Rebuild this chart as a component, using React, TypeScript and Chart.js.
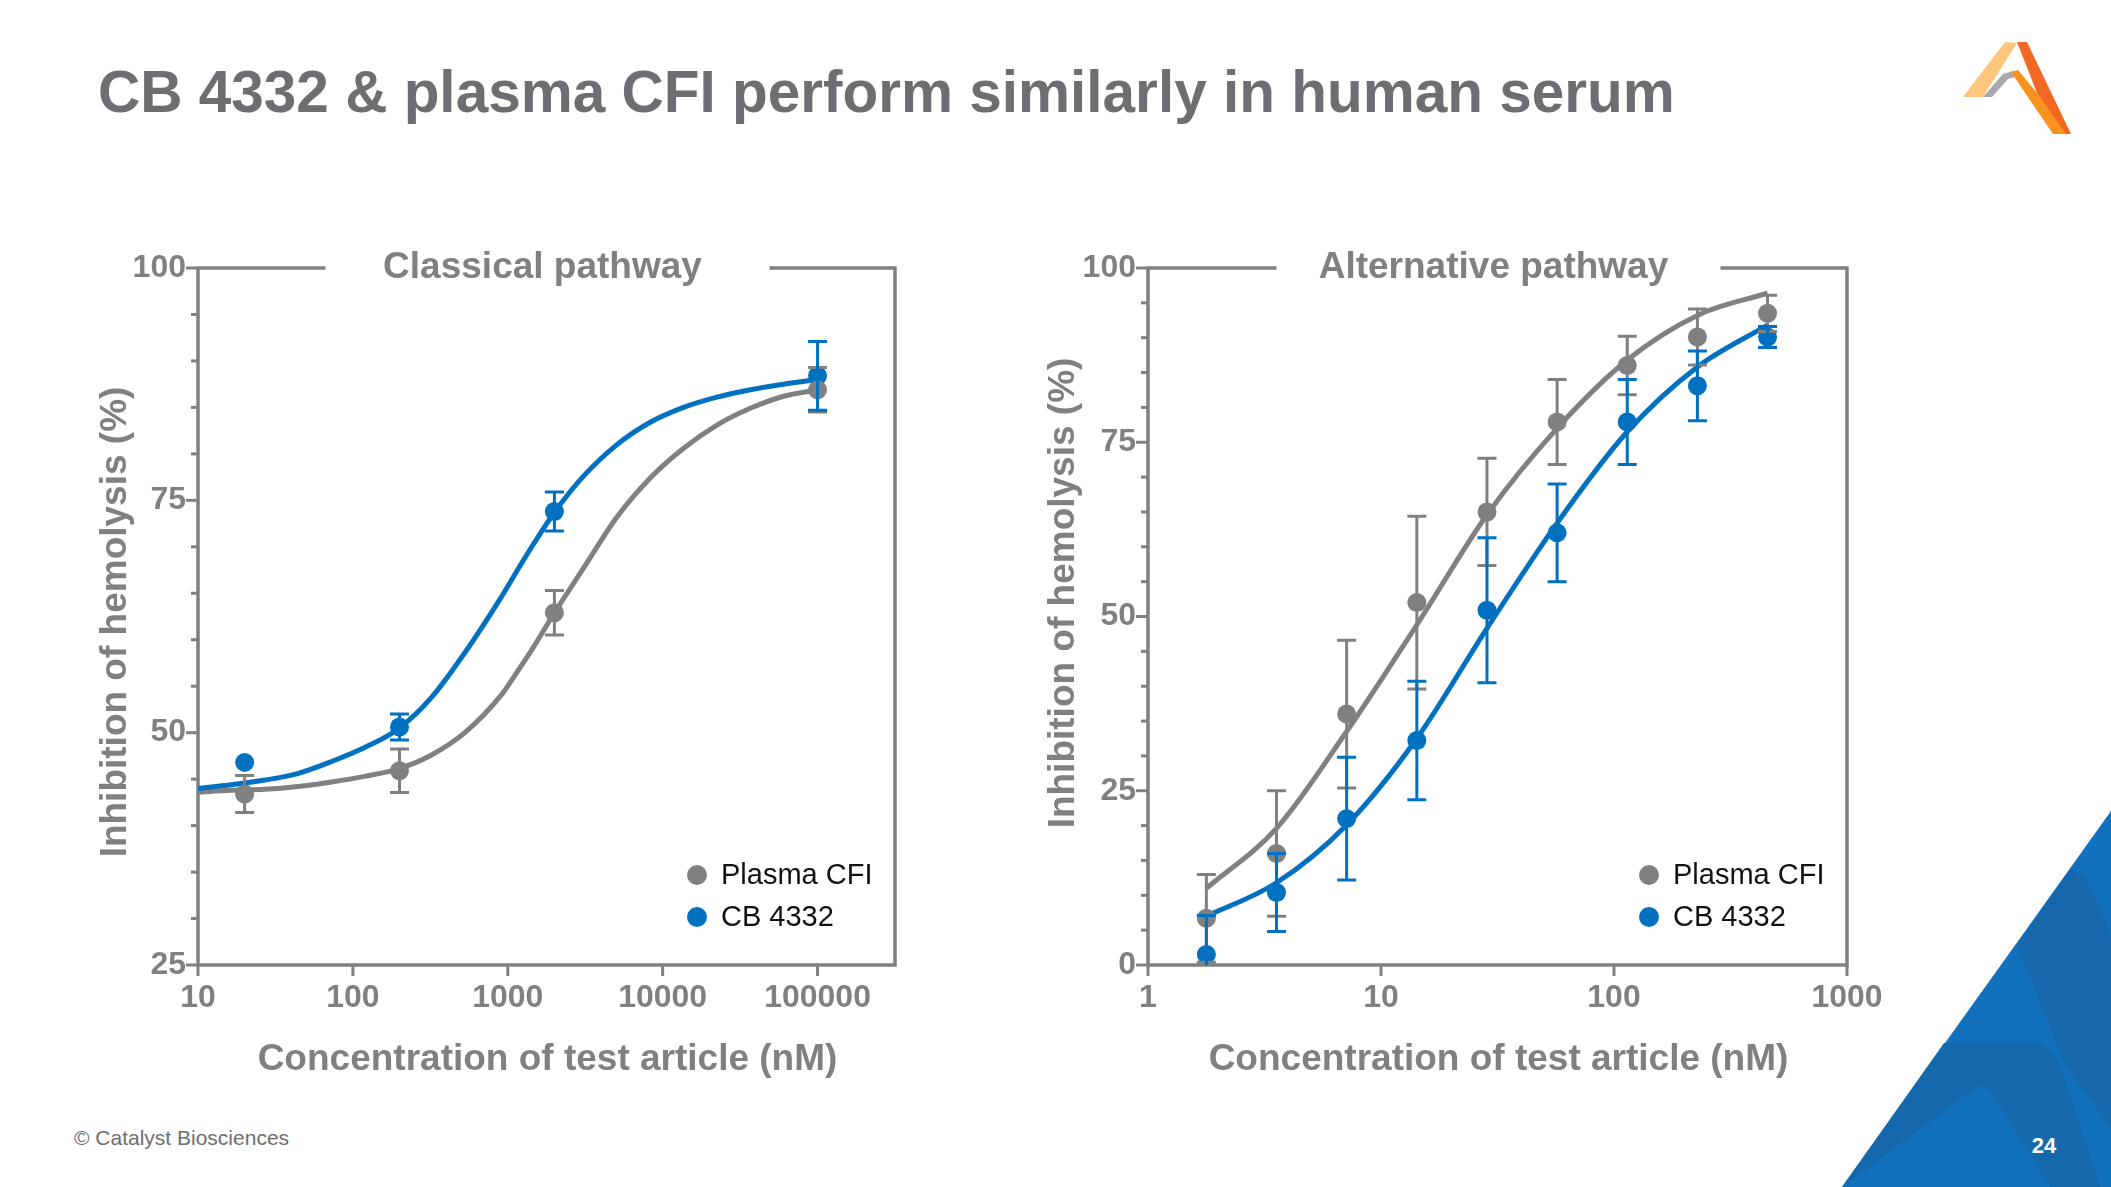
import React, { useEffect, useRef } from "react";
import { Chart, registerables } from "chart.js";

Chart.register(...registerables);

const FONT = "'Liberation Sans', Arial, Helvetica, sans-serif";
const GRAY = "#808080";
const BLUE = "#0070c0";
const TITLE_GRAY = "#6d6e71";
const W = 2111;
const H = 1187;

// ---------- Classical pathway ----------
const classicalConc = [20, 200, 2000, 100000];
const classicalPlasmaCFI = [43.4, 45.9, 62.9, 86.9];
const classicalPlasmaCFIErr = [2.0, 2.35, 2.4, 2.4];
const classicalCB4332 = [46.8, 50.6, 73.8, 88.4];
const classicalCB4332Err = [0, 1.4, 2.1, 3.7];
const classicalFitConc = [10, 16.4, 27, 44, 73, 119, 196, 322, 528, 893, 1146, 1466, 2000, 3083, 5070, 8318, 13650, 22400, 36800, 60400, 100000];
const classicalFitPlasmaCFI = [43.6, 43.8, 43.9, 44.2, 44.7, 45.3, 46.1, 47.6, 50.0, 53.9, 56.5, 59.2, 62.9, 67.7, 73.2, 77.4, 80.6, 83.1, 84.9, 86.2, 86.9];
const classicalFitCB4332 = [44.0, 44.4, 44.9, 45.6, 46.9, 48.4, 50.4, 53.8, 58.6, 64.4, 67.4, 70.3, 73.7, 77.6, 81.0, 83.4, 85.0, 86.1, 86.9, 87.5, 88.0];
const classicalXTicks = [10, 100, 1000, 10000, 100000];
const classicalYTicks = [25, 50, 75, 100];

// ---------- Alternative pathway ----------
const altConc = [1.78, 3.56, 7.12, 14.25, 28.5, 57, 114, 228, 456];
const altPlasmaCFI = [6.7, 16.0, 36.0, 52.0, 65.0, 77.9, 86.0, 90.1, 93.5];
const altPlasmaCFIErr = [6.3, 9.0, 10.6, 12.4, 7.7, 6.1, 4.2, 4.0, 2.6];
const altCB4332 = [1.5, 10.4, 21.0, 32.2, 50.9, 62.0, 77.9, 83.1, 90.1];
const altCB4332Err = [5.6, 5.6, 8.8, 8.5, 10.4, 7.0, 6.1, 5.0, 1.5];
const altFitConc = [1.78, 3.56, 7.12, 14.25, 28.5, 57, 114, 228, 456];
const altFitPlasmaCFI = [11.0, 19.6, 33.5, 48.8, 64.6, 77.0, 86.8, 93.2, 96.4];
const altFitCB4332 = [7.0, 11.8, 20.1, 32.5, 48.3, 63.4, 76.5, 85.8, 91.8];
const altXTicks = [1, 10, 100, 1000];
const altYTicks = [0, 25, 50, 75, 100];

type Panel = {
  title: string;
  left: number;
  right: number;
  top: number;
  bottom: number;
  xMin: number;
  xMax: number;
  yMin: number;
  yMax: number;
  minorStep: number;
  xTicks: number[];
  yTicks: number[];
  conc: number[];
  gray: number[];
  grayErr: number[];
  blue: number[];
  blueErr: number[];
  fitConc: number[];
  fitGray: number[];
  fitBlue: number[];
  yTitleX: number;
  yTitleY: number;
};

const classicalPanel: Panel = {
  title: "Classical pathway",
  left: 198,
  right: 895,
  top: 268,
  bottom: 965,
  xMin: 10,
  xMax: 316228,
  yMin: 25,
  yMax: 100,
  minorStep: 5,
  xTicks: classicalXTicks,
  yTicks: classicalYTicks,
  conc: classicalConc,
  gray: classicalPlasmaCFI,
  grayErr: classicalPlasmaCFIErr,
  blue: classicalCB4332,
  blueErr: classicalCB4332Err,
  fitConc: classicalFitConc,
  fitGray: classicalFitPlasmaCFI,
  fitBlue: classicalFitCB4332,
  yTitleX: 126,
  yTitleY: 622,
};

const altPanel: Panel = {
  title: "Alternative pathway",
  left: 1148,
  right: 1847,
  top: 268,
  bottom: 965,
  xMin: 1,
  xMax: 1000,
  yMin: 0,
  yMax: 100,
  minorStep: 5,
  xTicks: altXTicks,
  yTicks: altYTicks,
  conc: altConc,
  gray: altPlasmaCFI,
  grayErr: altPlasmaCFIErr,
  blue: altCB4332,
  blueErr: altCB4332Err,
  fitConc: altFitConc,
  fitGray: altFitPlasmaCFI,
  fitBlue: altFitCB4332,
  yTitleX: 1074,
  yTitleY: 593,
};

const AXIS_W = 100;
const AXIS_H = 100;

function makeDecor(p: Panel) {
  return {
    id: "decor",
    beforeDatasetsDraw(chart: any) {
      const ctx = chart.ctx as CanvasRenderingContext2D;
      const { left: L, right: R, top: T, bottom: B } = chart.chartArea;
      const xs = chart.scales.x;
      const ys = chart.scales.y;
      const cx = (L + R) / 2 + 1;
      ctx.save();
      ctx.strokeStyle = GRAY;
      ctx.lineWidth = 3.5;
      ctx.lineJoin = "miter";
      ctx.beginPath();
      ctx.moveTo(cx - 222, T);
      ctx.lineTo(L, T);
      ctx.lineTo(L, B);
      ctx.lineTo(R, B);
      ctx.lineTo(R, T);
      ctx.lineTo(cx + 222, T);
      ctx.stroke();
      // y ticks
      ctx.lineWidth = 3;
      for (let v = p.yMin; v <= p.yMax + 1e-6; v += p.minorStep) {
        const y = ys.getPixelForValue(v);
        const major = p.yTicks.includes(v);
        const len = major ? 12 : 7;
        ctx.beginPath();
        ctx.moveTo(L - len, y);
        ctx.lineTo(L, y);
        ctx.stroke();
      }
      // x ticks
      for (const v of p.xTicks) {
        const x = xs.getPixelForValue(v);
        ctx.beginPath();
        ctx.moveTo(x, B);
        ctx.lineTo(x, B + 11);
        ctx.stroke();
      }
      ctx.restore();
    },
    afterDatasetsDraw(chart: any) {
      const ctx = chart.ctx as CanvasRenderingContext2D;
      const { left: L, right: R, top: T, bottom: B } = chart.chartArea;
      const xs = chart.scales.x;
      const ys = chart.scales.y;
      ctx.save();
      ctx.beginPath();
      ctx.rect(L - 20, T - 30, R - L + 40, B - T + 30);
      ctx.clip();
      const drawBars = (vals: number[], errs: number[], color: string) => {
        ctx.strokeStyle = color;
        ctx.lineWidth = 3;
        vals.forEach((v, i) => {
          const e = errs[i];
          if (!e) return;
          const x = xs.getPixelForValue(p.conc[i]);
          const y1 = ys.getPixelForValue(v + e);
          const y2 = ys.getPixelForValue(v - e);
          ctx.beginPath();
          ctx.moveTo(x, y1);
          ctx.lineTo(x, y2);
          ctx.moveTo(x - 9.5, y1);
          ctx.lineTo(x + 9.5, y1);
          ctx.moveTo(x - 9.5, y2);
          ctx.lineTo(x + 9.5, y2);
          ctx.stroke();
        });
      };
      drawBars(p.gray, p.grayErr, GRAY);
      drawBars(p.blue, p.blueErr, BLUE);
      ctx.restore();
    },
    afterDraw(chart: any) {
      const ctx = chart.ctx as CanvasRenderingContext2D;
      const { left: L, right: R, top: T } = chart.chartArea;
      const cx = (L + R) / 2;
      ctx.save();
      // panel title
      ctx.fillStyle = GRAY;
      ctx.font = `bold 37px ${FONT}`;
      ctx.textAlign = "center";
      ctx.textBaseline = "alphabetic";
      ctx.fillText(p.title, cx - 4, T + 10);
      // x axis title
      ctx.fillText("Concentration of test article (nM)", cx + 1, 1070);
      // y axis title
      ctx.save();
      ctx.translate(p.yTitleX, p.yTitleY);
      ctx.rotate(-Math.PI / 2);
      ctx.fillText("Inhibition of hemolysis (%)", 0, 0);
      ctx.restore();
      // legend
      const lx = R - 198;
      const items: [string, string, number][] = [
        ["Plasma CFI", GRAY, 875],
        ["CB 4332", BLUE, 917],
      ];
      ctx.font = `29px ${FONT}`;
      ctx.textAlign = "left";
      ctx.textBaseline = "middle";
      for (const [label, color, y] of items) {
        ctx.fillStyle = color;
        ctx.beginPath();
        ctx.arc(lx, y, 10, 0, Math.PI * 2);
        ctx.fill();
        ctx.fillStyle = "#111111";
        ctx.fillText(label, lx + 24, y + 1);
      }
      ctx.restore();
    },
  };
}

function makeChart(canvas: HTMLCanvasElement, p: Panel) {
  const pts = (xs: number[], ys: number[]) => xs.map((x, i) => ({ x, y: ys[i] }));
  return new Chart(canvas, {
    type: "line",
    data: {
      datasets: [
        {
          label: "Plasma CFI",
          data: pts(p.conc, p.gray),
          showLine: false,
          pointRadius: 9.5,
          pointBorderWidth: 0,
          pointBackgroundColor: GRAY,
          borderColor: GRAY,
          backgroundColor: GRAY,
          clip: false as any,
        },
        {
          label: "CB 4332",
          data: pts(p.conc, p.blue),
          showLine: false,
          pointRadius: 9.5,
          pointBorderWidth: 0,
          pointBackgroundColor: BLUE,
          borderColor: BLUE,
          backgroundColor: BLUE,
          clip: false as any,
        },
        {
          label: "CB 4332 fit",
          data: pts(p.fitConc, p.fitBlue),
          borderColor: BLUE,
          borderWidth: 5,
          pointRadius: 0,
          fill: false,
          cubicInterpolationMode: "monotone",
        },
        {
          label: "Plasma CFI fit",
          data: pts(p.fitConc, p.fitGray),
          borderColor: GRAY,
          borderWidth: 5,
          pointRadius: 0,
          fill: false,
          cubicInterpolationMode: "monotone",
        },
      ],
    },
    options: {
      responsive: false,
      animation: false,
      devicePixelRatio: 1,
      events: [],
      layout: {
        padding: {
          left: p.left - AXIS_W,
          right: W - p.right,
          top: p.top,
          bottom: H - p.bottom - AXIS_H,
        },
      },
      scales: {
        x: {
          type: "logarithmic",
          min: p.xMin,
          max: p.xMax,
          afterBuildTicks: (s: any) => {
            s.ticks = p.xTicks.map((v) => ({ value: v }));
          },
          afterFit: (s: any) => {
            s.height = AXIS_H;
          },
          grid: { display: false, drawTicks: false },
          border: { display: false },
          ticks: {
            autoSkip: false,
            maxRotation: 0,
            padding: 14,
            color: GRAY,
            font: { family: FONT, size: 32, weight: "bold" },
            callback: (v: any) => String(v),
          },
        },
        y: {
          type: "linear",
          min: p.yMin,
          max: p.yMax,
          afterBuildTicks: (s: any) => {
            s.ticks = p.yTicks.map((v) => ({ value: v }));
          },
          afterFit: (s: any) => {
            s.width = AXIS_W;
          },
          grid: { display: false, drawTicks: false },
          border: { display: false },
          ticks: {
            padding: 12,
            color: GRAY,
            font: { family: FONT, size: 32, weight: "bold" },
            callback: (v: any) => String(v),
          },
        },
      },
      plugins: {
        legend: { display: false },
        tooltip: { enabled: false },
        title: { display: false },
      },
    } as any,
    plugins: [makeDecor(p) as any],
  });
}

export default function App() {
  const leftRef = useRef<HTMLCanvasElement>(null);
  const rightRef = useRef<HTMLCanvasElement>(null);

  useEffect(() => {
    const c1 = makeChart(leftRef.current as HTMLCanvasElement, classicalPanel);
    const c2 = makeChart(rightRef.current as HTMLCanvasElement, altPanel);
    return () => {
      c1.destroy();
      c2.destroy();
    };
  }, []);

  return (
    <div
      style={{
        position: "absolute",
        left: 0,
        top: 0,
        width: W,
        height: H,
        overflow: "hidden",
        background: "#ffffff",
      }}
    >
      <svg
        width={W}
        height={H}
        style={{ position: "absolute", left: 0, top: 0 }}
        xmlns="http://www.w3.org/2000/svg"
      >
        <text
          x={98}
          y={112}
          fontFamily={FONT}
          fontSize={58.5}
          fontWeight="bold"
          fill={TITLE_GRAY}
        >
          CB 4332 &amp; plasma CFI perform similarly in human serum
        </text>
        {/* logo */}
        <polygon points="1963,97 1983,97 2017,43 2005,42" fill="#fcc67d" />
        <polygon points="1983,97 2003,74 2013,71 2019,76 2008,79 1992,97" fill="#a7a9ac" />
        <polygon points="2011,72 2018,70 2038,94 2067,134 2053,134" fill="#f7931e" />
        <polygon points="2017,42 2027,42 2071,134 2066,134 2037,93" fill="#f26722" />
        {/* corner triangle */}
        <polygon points="2111,811 2111,1187 1842,1187" fill="#1271bc" />
        <polygon points="2070,870 2084,876 2111,935 2111,1127 2066,1066 2017,945" fill="#1667ab" />
        <polygon points="1842,1187 1944,1043 2040,1043 2058,1060 2100,1187 2050,1187 1992,1092 1980,1085" fill="#1668ad" />
        <text
          x={2044}
          y={1153}
          textAnchor="middle"
          fontFamily={FONT}
          fontSize={22}
          fontWeight="bold"
          fill="#ffffff"
        >
          24
        </text>
        <text x={74} y={1145} fontFamily={FONT} fontSize={21} fill={TITLE_GRAY}>
          © Catalyst Biosciences
        </text>
      </svg>
      <canvas
        ref={leftRef}
        width={W}
        height={H}
        style={{ position: "absolute", left: 0, top: 0 }}
      />
      <canvas
        ref={rightRef}
        width={W}
        height={H}
        style={{ position: "absolute", left: 0, top: 0 }}
      />
    </div>
  );
}
